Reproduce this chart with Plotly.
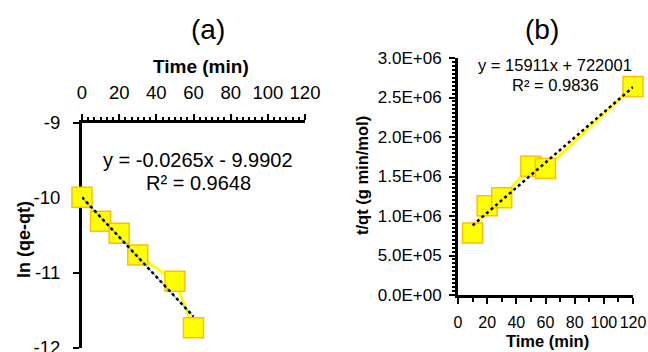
import plotly.graph_objects as go

# ---------------- data ----------------
time_a = [0, 10, 20, 30, 50, 60]
ln_qe_qt = [-9.99, -10.31, -10.47, -10.76, -11.11, -11.73]
slope_a, intercept_a = -0.0265, -9.9902
fit_range_a = [0, 60]
eq_a = "y = -0.0265x - 9.9902"
r2_a = "R² = 0.9648"

time_b = [10, 20, 30, 50, 60, 120]
t_qt = [785000, 1130000, 1230000, 1630000, 1600000, 2640000]
slope_b, intercept_b = 15911, 722001
fit_range_b = [10, 120]
eq_b = "y = 15911x + 722001"
r2_b = "R² = 0.9836"

x_ticks = [0, 20, 40, 60, 80, 100, 120]
x_ticklabels = ["0", "20", "40", "60", "80", "100", "120"]
ya_ticks = [-9, -10, -11, -12]
ya_ticklabels = ["-9", "-10", "-11", "-12"]
yb_ticks = [0, 500000, 1000000, 1500000, 2000000, 2500000, 3000000]
yb_ticklabels = ["0.0E+00", "5.0E+05", "1.0E+06", "1.5E+06", "2.0E+06", "2.5E+06", "3.0E+06"]

# ---------------- figure ----------------
W, H = 648, 352
FONT = "Liberation Sans, Arial, sans-serif"
YELLOW = "#FFFF00"
ORANGE = "#FFC000"


def px(x):
    return x / W


def py(y):
    return 1 - y / H


fig = go.Figure()

marker = dict(symbol="square", size=20, color=YELLOW, line=dict(color=ORANGE, width=1.5))

# panel (a)
fig.add_trace(go.Scatter(x=time_a, y=ln_qe_qt, mode="lines+markers", marker=marker,
                         line=dict(color=YELLOW, width=3), cliponaxis=False,
                         xaxis="x", yaxis="y", showlegend=False))
fit_a_y = [slope_a * t + intercept_a for t in fit_range_a]
fig.add_trace(go.Scatter(x=fit_range_a, y=fit_a_y, mode="lines",
                         line=dict(color="#5B9BD5", width=1), cliponaxis=False,
                         xaxis="x", yaxis="y", showlegend=False))
fig.add_trace(go.Scatter(x=fit_range_a, y=fit_a_y, mode="lines",
                         line=dict(color="black", width=2.5, dash="dot"), cliponaxis=False,
                         xaxis="x", yaxis="y", showlegend=False))

# panel (b)
fig.add_trace(go.Scatter(x=time_b, y=t_qt, mode="lines+markers", marker=marker,
                         line=dict(color=YELLOW, width=3), cliponaxis=False,
                         xaxis="x2", yaxis="y2", showlegend=False))
fit_b_y = [slope_b * t + intercept_b for t in fit_range_b]
fig.add_trace(go.Scatter(x=fit_range_b, y=fit_b_y, mode="lines",
                         line=dict(color="black", width=2.5, dash="dot"), cliponaxis=False,
                         xaxis="x2", yaxis="y2", showlegend=False))

axis_common = dict(showgrid=False, zeroline=False, showline=True, linecolor="black",
                   linewidth=3, ticks="outside", tickcolor="black", tickwidth=2,
                   layer="below traces", automargin=False, tickangle=0,
                   tickmode="array", ticklabeloverflow="allow")

fig.update_layout(
    width=W, height=H,
    margin=dict(l=0, r=0, t=0, b=0),
    paper_bgcolor="white", plot_bgcolor="white",
    font=dict(family=FONT, color="black"),
    xaxis=dict(**axis_common, domain=[px(82), px(305)], anchor="y", side="top",
               range=[0, 120], tickvals=x_ticks, ticktext=x_ticklabels, ticklen=6,
               tickfont=dict(size=18.5), ticklabelstandoff=8,
               minor=dict(ticks="outside", tickmode="linear", dtick=10 / 3, tick0=0,
                          ticklen=3, tickwidth=2, tickcolor="black", showgrid=False)),
    yaxis=dict(**axis_common, domain=[py(348), py(123)], anchor="x",
               range=[-12, -9], tickvals=ya_ticks, ticktext=ya_ticklabels, ticklen=6,
               tickfont=dict(size=18.5), ticklabelstandoff=9),
    xaxis2=dict(**axis_common, domain=[px(458), px(633)], anchor="y2",
                range=[0, 120], tickvals=x_ticks, ticktext=x_ticklabels, ticklen=6,
                tickfont=dict(size=16), ticklabelstandoff=5,
                minor=dict(ticks="outside", tickmode="linear", dtick=10, tick0=0,
                           ticklen=4, tickwidth=2, tickcolor="black", showgrid=False)),
    yaxis2=dict(**axis_common, domain=[py(295), py(58)], anchor="x2",
                range=[0, 3000000], tickvals=yb_ticks, ticktext=yb_ticklabels,
                ticklen=6, tickfont=dict(size=17), ticklabelstandoff=4,
                minor=dict(ticks="outside", tickmode="linear", dtick=50000, tick0=0,
                           ticklen=3, tickwidth=2, tickcolor="black", showgrid=False)),
)


def ann(text, x, y, size, bold=False, angle=0):
    fig.add_annotation(text=f"<b>{text}</b>" if bold else text,
                       x=px(x), y=py(y), xref="paper", yref="paper",
                       xanchor="center", yanchor="middle", showarrow=False,
                       textangle=angle, font=dict(size=size, family=FONT, color="black"))


ann("(a)", 208, 30, 28)
ann("(b)", 542, 30, 28)
ann("Time (min)", 201, 67, 19, bold=True)
ann("ln (qe-qt)", 24, 240, 18, bold=True, angle=-90)
ann(eq_a, 198, 160, 20)
ann(r2_a, 198, 183, 20)
ann(eq_b, 555, 65, 16.5)
ann(r2_b, 555, 85, 16.5)
ann("t/qt (g min/mol)", 362, 176, 16.5, bold=True, angle=-90)
ann("Time (min)", 547, 341, 16.5, bold=True)

fig.write_html("out.html")
